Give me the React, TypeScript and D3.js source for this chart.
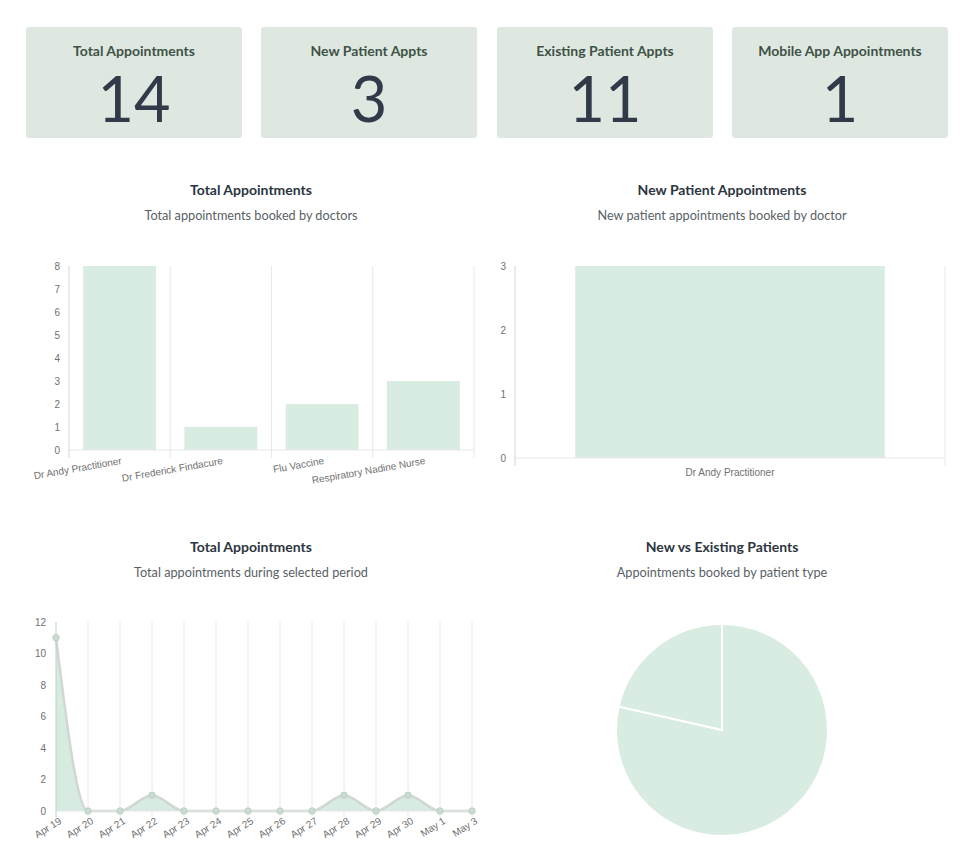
import React from 'react';
import * as d3 from 'd3';

// KPI cards
const kpiLabels = ['Total Appointments', 'New Patient Appts', 'Existing Patient Appts', 'Mobile App Appointments'];
const kpiValues = [14, 3, 11, 1];

// bar chart: total by doctor
const doctorNames = ['Dr Andy Practitioner', 'Dr Frederick Findacure', 'Flu Vaccine', 'Respiratory Nadine Nurse'];
const doctorTotals = [8, 1, 2, 3];

// bar chart: new patients by doctor
const newDoctorNames = ['Dr Andy Practitioner'];
const newDoctorTotals = [3];

// line chart: appointments per day
const dayLabels = ['Apr 19', 'Apr 20', 'Apr 21', 'Apr 22', 'Apr 23', 'Apr 24', 'Apr 25', 'Apr 26', 'Apr 27', 'Apr 28', 'Apr 29', 'Apr 30', 'May 1', 'May 3'];
const dayValues = [11, 0, 0, 1, 0, 0, 0, 0, 0, 1, 0, 1, 0, 0];

// pie: patient type
const patientTypes = ['Existing', 'New'];
const patientCounts = [11, 3];

const LATO = 'Lato, "Noto Sans", sans-serif';
const TICK_FONT = '"Liberation Sans", Arial, sans-serif';
const MINT = '#d9ece1';
const GRID = '#e8e8e8';
const TICK = '#707070';

const Title: React.FC<{ x: number; y: number; title: string; sub: string }> = ({ x, y, title, sub }) => (
  <g fontFamily={LATO} textAnchor="middle">
    <text x={x} y={y} fontSize={14} fontWeight={700} fill="#2d3540">{title}</text>
    <text x={x} y={y + 25} fontSize={12.7} fill="#595f66">{sub}</text>
  </g>
);

const BarChart: React.FC<{
  names: string[]; values: number[]; left: number; right: number; top: number; bottom: number;
  yMax: number; rotate: boolean;
}> = ({ names, values, left, right, top, bottom, yMax, rotate }) => {
  const x = d3.scaleBand<string>().domain(names).range([left, right]).paddingInner(0).paddingOuter(0);
  const y = d3.scaleLinear().domain([0, yMax]).range([bottom, top]);
  const bw = x.bandwidth() * 0.72;
  const edges = names.map((n) => (x(n) || 0) + x.bandwidth());
  return (
    <g>
      {edges.map((e, i) => (
        <line key={i} x1={e} x2={e} y1={top} y2={bottom + 8} stroke={GRID} />
      ))}
      {names.map((n, i) => (
        <rect key={n} x={(x(n) || 0) + (x.bandwidth() - bw) / 2} y={y(values[i])}
          width={bw} height={bottom - y(values[i])} fill={MINT} />
      ))}
      <line x1={left} x2={right} y1={bottom} y2={bottom} stroke={GRID} />
      <line x1={left} x2={left} y1={top} y2={bottom + 8} stroke="#d6d6d6" />
      {y.ticks(yMax).map((t) => (
        <text key={t} x={left - 9} y={y(t)} dy="0.35em" textAnchor="end" fontSize={10}
          fontFamily={TICK_FONT} fill={TICK}>{t}</text>
      ))}
      {names.map((n) => {
        const cx = (x(n) || 0) + x.bandwidth() / 2;
        return rotate ? (
          <text key={n} transform={`translate(${cx + 1},${bottom + 6}) rotate(-10)`} textAnchor="end"
            dy="0.8em" fontSize={10} fontFamily={TICK_FONT} fill={TICK}>{n}</text>
        ) : (
          <text key={n} x={cx} y={bottom + 14} dy="0.35em" textAnchor="middle" fontSize={10}
            fontFamily={TICK_FONT} fill={TICK}>{n}</text>
        );
      })}
    </g>
  );
};

const LineChart: React.FC = () => {
  const left = 56, right = 472, top = 622, bottom = 811;
  const x = d3.scalePoint<string>().domain(dayLabels).range([left, right]);
  const y = d3.scaleLinear().domain([0, 12]).range([bottom, top]);
  const line = d3.line<number>().x((_, i) => x(dayLabels[i]) || 0).y((d) => y(d)).curve(d3.curveMonotoneX);
  const area = d3.area<number>().x((_, i) => x(dayLabels[i]) || 0).y0(bottom).y1((d) => y(d)).curve(d3.curveMonotoneX);
  return (
    <g>
      {dayLabels.slice(1).map((d) => (
        <line key={d} x1={x(d)} x2={x(d)} y1={top} y2={bottom + 6} stroke={GRID} />
      ))}
      <path d={area(dayValues) || ''} fill="#d8ebe0" />
      <path d={line(dayValues) || ''} fill="none" stroke="#cfd8d2" strokeWidth={2.5} />
      <line x1={left} x2={right} y1={bottom} y2={bottom} stroke={GRID} />
      <line x1={left} x2={left} y1={top} y2={bottom + 6} stroke="#b9d3c3" />
      {dayValues.map((v, i) => (
        <circle key={i} cx={x(dayLabels[i])} cy={y(v)} r={3.2} fill="#c9ddd0" stroke="#bcd2c4" />
      ))}
      {y.ticks(6).map((t) => (
        <text key={t} x={left - 10} y={y(t)} dy="0.35em" textAnchor="end" fontSize={10}
          fontFamily={TICK_FONT} fill={TICK}>{t}</text>
      ))}
      {dayLabels.map((d) => (
        <text key={d} transform={`translate(${(x(d) || 0) + 2},${bottom + 5}) rotate(-32)`} textAnchor="end"
          dy="0.8em" fontSize={10} fontFamily={TICK_FONT} fill={TICK}>{d}</text>
      ))}
    </g>
  );
};

const PieChart: React.FC = () => {
  const pie = d3.pie<number>().sort(null).startAngle(0).endAngle(2 * Math.PI);
  const arc = d3.arc<d3.PieArcDatum<number>>().innerRadius(0).outerRadius(106);
  return (
    <g transform="translate(722,730)">
      {pie(patientCounts).map((a, i) => (
        <path key={patientTypes[i]} d={arc(a) || ''} fill={MINT} stroke="#fff" strokeWidth={2} />
      ))}
    </g>
  );
};

export default function App() {
  const cardX = [26, 261, 497, 732];
  return (
    <svg width={964} height={864} style={{ position: 'absolute', left: 0, top: 0 }}>
      <rect width={964} height={864} fill="#fff" />
      {kpiLabels.map((l, i) => (
        <g key={l} fontFamily={LATO} textAnchor="middle">
          <rect x={cardX[i]} y={27} width={216} height={111} rx={3} fill="#dee8e1" />
          <text x={cardX[i] + 108} y={56} fontSize={14} fontWeight={700} fill="#3e5246">{l}</text>
          <text x={cardX[i] + 108} y={122} fontSize={63} fill="#313a48">{kpiValues[i]}</text>
        </g>
      ))}
      <Title x={251} y={195} title="Total Appointments" sub="Total appointments booked by doctors" />
      <Title x={722} y={195} title="New Patient Appointments" sub="New patient appointments booked by doctor" />
      <Title x={251} y={552} title="Total Appointments" sub="Total appointments during selected period" />
      <Title x={722} y={552} title="New vs Existing Patients" sub="Appointments booked by patient type" />
      <BarChart names={doctorNames} values={doctorTotals} left={69} right={474} top={266} bottom={450} yMax={8} rotate />
      <BarChart names={newDoctorNames} values={newDoctorTotals} left={515} right={945} top={266} bottom={458} yMax={3} rotate={false} />
      <LineChart />
      <PieChart />
    </svg>
  );
}
